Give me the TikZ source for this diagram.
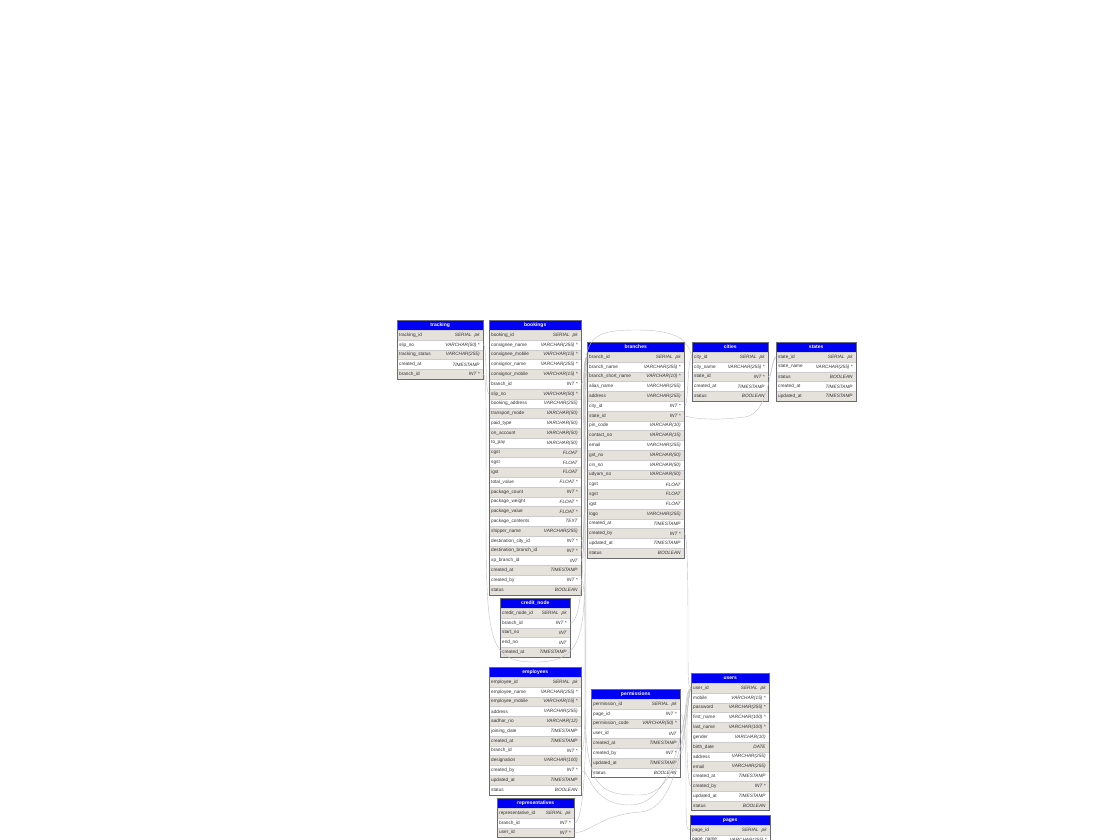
\documentclass[tikz,border=0pt]{standalone}
\usepackage{fontspec}
\setmainfont{Liberation Sans}
\definecolor{hdrblue}{RGB}{0,0,245}
\definecolor{rowg}{RGB}{229,225,219}
\definecolor{roww}{RGB}{255,255,255}
\definecolor{tblline}{RGB}{105,105,120}
\definecolor{conn}{RGB}{195,195,195}
\tikzset{
  hdr/.style={draw=tblline, fill=hdrblue, text=white, font=\fontsize{5}{6}\selectfont\bfseries, minimum height=10pt, inner sep=0pt},
  rowbox/.style={draw=gray!40, line width=0.3pt, minimum height=9.8pt, inner sep=0pt},
  fld/.style={font=\fontsize{4.7}{5}\selectfont, inner sep=0pt, text=black!80},
  typ/.style={font=\fontsize{4.7}{5}\selectfont\itshape, inner sep=0pt, text=black!80},
  tblframe/.style={draw=tblline, line width=0.6pt},
  fk/.style={draw=conn, line width=0.4pt},
}
\newcommand\ertable[6]{%
  \node[hdr, minimum width=#5pt, anchor=north west] (#1) at (#3,#4) {#2};
  \foreach [count=\n] \fld/\typ in {#6} {%
    \pgfmathsetmacro\yy{#4+10+(\n-1)*9.8}%
    \ifodd\n\relax \def\rc{rowg}\else \def\rc{roww}\fi
    \node[rowbox, fill=\rc, minimum width=#5pt, anchor=north west] (#1-\n) at (#3,\yy) {};
    \node[fld, anchor=west] at ([xshift=2pt]#1-\n.west) {\fld};
    \node[typ, anchor=east] at ([xshift=-3.5pt]#1-\n.east) {\typ};
    \xdef\lastrow{\n}%
  }%
  \draw[tblframe] (#1.north west) rectangle (#1-\lastrow.south east);
}
\newcommand\PK{SERIAL\hspace{3pt}pk}
\begin{document}
\begin{tikzpicture}[x=1pt,y=-1pt]
\fill[white] (0,0) rectangle (1118,839);
\useasboundingbox (0,0) rectangle (1118,839);
\clip (0,0) rectangle (1118,839);

\ertable{tracking}{tracking}{397}{320}{86}{tracking\_id/\PK, slip\_no/VARCHAR(50) *, tracking\_status/VARCHAR(255), created\_at/TIMESTAMP, branch\_id/INT *}

\ertable{bookings}{bookings}{489}{320}{92}{booking\_id/\PK, consignee\_name/VARCHAR(255) *, consignee\_mobile/VARCHAR(15) *, consignor\_name/VARCHAR(255) *, consignor\_mobile/VARCHAR(15) *, branch\_id/INT *, slip\_no/VARCHAR(50) *, booking\_address/VARCHAR(255), transport\_mode/VARCHAR(50), paid\_type/VARCHAR(50), on\_account/VARCHAR(50), to\_pay/VARCHAR(50), cgst/FLOAT, sgst/FLOAT, igst/FLOAT, total\_value/FLOAT *, package\_count/INT *, package\_weight/FLOAT *, package\_value/FLOAT *, package\_contents/TEXT, shipper\_name/VARCHAR(255), destination\_city\_id/INT *, destination\_branch\_id/INT *, xp\_branch\_id/INT, created\_at/TIMESTAMP, created\_by/INT *, status/BOOLEAN}

\ertable{branches}{branches}{587}{342}{97}{branch\_id/\PK, branch\_name/VARCHAR(255) *, branch\_short\_name/VARCHAR(10) *, alias\_name/VARCHAR(255), address/VARCHAR(255), city\_id/INT *, state\_id/INT *, pin\_code/VARCHAR(10), contact\_no/VARCHAR(15), email/VARCHAR(255), gst\_no/VARCHAR(50), cin\_no/VARCHAR(50), udyam\_no/VARCHAR(50), cgst/FLOAT, sgst/FLOAT, igst/FLOAT, logo/VARCHAR(255), created\_at/TIMESTAMP, created\_by/INT *, updated\_at/TIMESTAMP, status/BOOLEAN}

\ertable{cities}{cities}{692}{342}{76}{city\_id/\PK, city\_name/VARCHAR(255) *, state\_id/INT *, created\_at/TIMESTAMP, status/BOOLEAN}

\ertable{states}{states}{776}{342}{80}{state\_id/\PK, state\_name/VARCHAR(255) *, status/BOOLEAN, created\_at/TIMESTAMP, updated\_at/TIMESTAMP}

\ertable{credit}{credit\_node}{500}{598}{70}{credit\_node\_id/\PK, branch\_id/INT *, start\_no/INT, end\_no/INT, created\_at/TIMESTAMP}

\ertable{employees}{employees}{489}{667}{92}{employee\_id/\PK, employee\_name/VARCHAR(255) *, employee\_mobile/VARCHAR(15) *, address/VARCHAR(255), aadhar\_no/VARCHAR(12), joining\_date/TIMESTAMP, created\_at/TIMESTAMP, branch\_id/INT *, designation/VARCHAR(100), created\_by/INT *, updated\_at/TIMESTAMP, status/BOOLEAN}

\ertable{permissions}{permissions}{591}{689}{89}{permission\_id/\PK, page\_id/INT *, permission\_code/VARCHAR(50) *, user\_id/INT, created\_at/TIMESTAMP, created\_by/INT *, updated\_at/TIMESTAMP, status/BOOLEAN}

\ertable{users}{users}{691}{673}{78}{user\_id/\PK, mobile/VARCHAR(15) *, password/VARCHAR(255) *, first\_name/VARCHAR(100) *, last\_name/VARCHAR(100) *, gender/VARCHAR(10), birth\_date/DATE, address/VARCHAR(255), email/VARCHAR(255), created\_at/TIMESTAMP, created\_by/INT *, updated\_at/TIMESTAMP, status/BOOLEAN}

\ertable{representatives}{representatives}{497}{798}{77}{representative\_id/\PK, branch\_id/INT *, user\_id/INT *}

\ertable{pages}{pages}{690}{815}{80}{page\_id/\PK, page\_name/VARCHAR(255) *}

% foreign key connectors
\draw[fk] (tracking-2.east) .. controls (487,344) and (485,394) .. (bookings-7.west);
\draw[fk] (tracking-5.east) .. controls (487,374) and (486,420) .. (486,500) .. controls (486,640) and (487,662) .. (535,662) .. controls (580,662) and (585,640) .. (585,560) .. controls (585,400) and (583,357) .. (branches-1.west);
\draw[fk] (bookings-6.east) .. controls (585,384) and (583,357) .. (branches-1.west);
\draw[fk] (bookings-23.east) .. controls (586,550) and (585,380) .. (branches-1.west);
\draw[fk] (bookings-24.east) .. controls (587,560) and (583,370) .. (branches-1.west);
\draw[fk] (bookings-22.east) .. controls (586,540) and (584,480) .. (584,400) .. controls (584,340) and (586,330) .. (636,330) .. controls (686,330) and (688,345) .. (cities-1.west);
\draw[fk] (credit-2.east) .. controls (580,623) and (584,580) .. (584,500) .. controls (584,400) and (582,357) .. (branches-1.west);
\draw[fk] (employees-8.east) .. controls (586,751) and (585,700) .. (585,600) .. controls (585,420) and (582,357) .. (branches-1.west);
\draw[fk] (representatives-2.east) .. controls (582,823) and (586,780) .. (586,700) .. controls (586,450) and (583,357) .. (branches-1.west);
\draw[fk] (bookings-26.east) .. controls (586,580) and (585,640) .. (585,700) .. controls (585,790) and (600,795) .. (640,795) .. controls (685,795) and (686,700) .. (users-1.west);
\draw[fk] (branches-19.east) .. controls (688,533) and (688,600) .. (688,640) .. controls (688,680) and (688,688) .. (users-1.west);
\draw[fk] (employees-10.east) .. controls (590,770) and (590,805) .. (630,805) .. controls (680,805) and (684,700) .. (users-1.west);
\draw[fk] (representatives-3.east) .. controls (590,833) and (600,815) .. (640,812) .. controls (684,810) and (686,700) .. (users-1.west);
\draw[fk] (permissions-4.east) .. controls (686,733) and (684,688) .. (users-1.west);
\draw[fk] (permissions-6.east) .. controls (687,753) and (684,690) .. (users-1.west);
\draw[fk] (permissions-2.east) .. controls (686,714) and (686,760) .. (686,790) .. controls (686,825) and (686,830) .. (pages-1.west);
\draw[fk] (users-11.west) .. controls (686,786) and (685,700) .. (users-1.west);
\draw[fk] (branches-6.east) .. controls (689,406) and (687,357) .. (cities-1.west);
\draw[fk] (branches-7.east) .. controls (700,420) and (720,420) .. (745,417) .. controls (770,414) and (770,360) .. (states-1.west);
\draw[fk] (cities-3.east) .. controls (772,377) and (772,357) .. (states-1.west);
\end{tikzpicture}
\end{document}
